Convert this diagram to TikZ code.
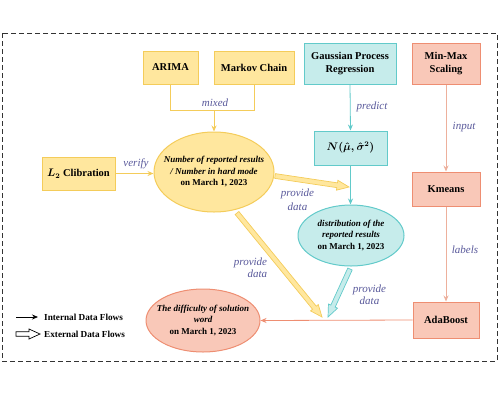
\documentclass[tikz,border=0pt]{standalone}
\usepackage{amsmath,bm}
\usepackage{fontspec}
\setmainfont{Liberation Serif}
\usetikzlibrary{arrows.meta,calc,shapes.geometric}
\definecolor{yfill}{HTML}{FFE79E}
\definecolor{ydraw}{HTML}{F4CC5A}
\definecolor{cfill}{HTML}{C6ECEB}
\definecolor{cdraw}{HTML}{62CACA}
\definecolor{sfill}{HTML}{F9C8B8}
\definecolor{sdraw}{HTML}{EE8E72}
\definecolor{slight}{HTML}{EDB09C}
\definecolor{lab}{HTML}{58589A}
\newcommand{\fatarrow}[7]{%
  \path ($(#2)!#7!(#1)$) coordinate (fh);
  \filldraw[draw=#3, fill=#4, line width=0.7pt, line join=miter]
    ($(#1)!#5!90:(#2)$) -- ($(fh)!#5!90:(#2)$) -- ($(fh)!#6!90:(#2)$) -- (#2)
    -- ($(fh)!#6!-90:(#2)$) -- ($(fh)!#5!-90:(#2)$) -- ($(#1)!#5!-90:(#2)$) -- cycle;
}
\newcommand{\normtxt}{{\mathversion{bold}$N(\hat{\mu},\hat{\sigma}^{2})$}}
\tikzset{
  box/.style={rectangle, draw, line width=1pt, inner sep=0pt, align=center,
    font=\bfseries\fontsize{10.5}{13}\selectfont},
  ybox/.style={box, draw=ydraw, fill=yfill},
  cbox/.style={box, draw=cdraw, fill=cfill},
  sbox/.style={box, draw=sdraw, fill=sfill},
  ell/.style={ellipse, line width=1pt, inner sep=0pt},
  etext/.style={align=center, inner sep=0pt, font=\fontsize{9}{11.5}\selectfont},
  lbl/.style={text=lab, inner sep=0pt, font=\itshape\fontsize{11}{14}\selectfont},
  tip/.style={-{Stealth[length=6pt,width=5pt]}},
  conn/.style={line width=0.8pt},
}
\begin{document}
\begin{tikzpicture}[x=1pt,y=-1pt]
\useasboundingbox (0,0) rectangle (500,400);
\draw[line width=0.8pt, draw=black!80, dash pattern=on 5pt off 3pt] (2,33) rectangle (497,361);

% boxes
\node[ybox, minimum width=55, minimum height=33] (arima) at (170.5,67.5) {ARIMA};
\node[ybox, minimum width=80, minimum height=33] (markov) at (254,67.5) {Markov Chain};
\node[cbox, minimum width=92, minimum height=41] (gpr) at (350,63.5) {Gaussian Process\\Regression};
\node[sbox, minimum width=68, minimum height=41] (minmax) at (446,63.5) {Min-Max\\Scaling};
\node[cbox, minimum width=73, minimum height=34] (nbox) at (350.5,148) {\normtxt};
\node[sbox, minimum width=68, minimum height=34] (kmeans) at (446,189) {Kmeans};
\node[sbox, minimum width=66, minimum height=36] (ada) at (446,320) {AdaBoost};
\node[ybox, minimum width=73, minimum height=33] (ltwo) at (78.5,173.5) {{\mathversion{bold}$L_2$} Clibration};

% ellipses
\node[ell, draw=ydraw, fill=yfill, minimum width=120, minimum height=80] (e1) at (214,172) {};
\node[etext] (e1t) at (e1) {\bfseries\itshape Number of reported results\\\bfseries\itshape / Number in hard mode\\\bfseries on March 1, 2023};
\node[ell, draw=cdraw, fill=cfill, minimum width=106, minimum height=61] (e2) at (351,235.5) {};
\node[etext] (e2t) at (e2) {\bfseries\itshape distribution of the\\\bfseries\itshape reported results\\\bfseries on March 1, 2023};
\node[ell, draw=sdraw, fill=sfill, minimum width=114, minimum height=63] (e3) at (203,320.5) {};
\node[etext] (e3t) at (e3) {\bfseries\itshape The difficulty of solution\\\bfseries\itshape word\\\bfseries on March 1, 2023};

% thin connectors
\coordinate (mix) at (214,110);
\draw[conn, ydraw] (arima.south) |- (mix);
\draw[conn, ydraw] (markov.south) |- (mix);
\draw[conn, ydraw, tip] (mix) -- (e1.north);
\node[lbl] (lmix) at (215,102.5) {mixed};
\draw[conn, ydraw, tip] (ltwo.east) -- (ltwo.east -| e1.west);
\node[lbl] (lver) at (136,164) {verify};
\draw[conn, cdraw, tip] (gpr.south) -- (nbox.north);
\node[lbl] (lpred) at (372,107) {predict};
\draw[conn, cdraw, tip] (nbox.south) -- (nbox.south |- e2.north);
\draw[conn, slight, tip] (minmax.south) -- (kmeans.north);
\node[lbl] (linp) at (464,127) {input};
\draw[conn, slight, tip] (kmeans.south) -- (ada.north);
\node[lbl] (llab) at (465,250) {labels};
\draw[conn, sdraw, tip] (ada.west) -- (e3.east);

% fat arrows
\coordinate (f1s) at (275,176);
\coordinate (f1e) at (349,187);
\coordinate (f2s) at (237,213);
\coordinate (f2e) at (322,317);
\coordinate (f3s) at (350,269);
\coordinate (f3e) at (328,317);
\fatarrow{f1s}{f1e}{ydraw}{yfill}{2.4pt}{5pt}{12pt}
\fatarrow{f2s}{f2e}{ydraw}{yfill}{2.4pt}{5pt}{12pt}
\fatarrow{f3s}{f3e}{cdraw}{cfill}{2.4pt}{5pt}{12pt}
\node[lbl, align=center, font=\itshape\fontsize{11}{14}\selectfont] (lp1) at (297.5,200) {provide\\data};
\node[lbl, align=right, font=\itshape\fontsize{11}{12}\selectfont] (lp2) at (250.5,268) {provide\\data};
\node[lbl, align=center, font=\itshape\fontsize{11}{12}\selectfont] (lp3) at (369.5,295) {provide\\data};

% legend
\coordinate (g1s) at (16,317);
\coordinate (g1e) at (38,317);
\draw[conn, black, tip] (g1s) -- (g1e);
\node[anchor=west, inner sep=0pt, font=\bfseries\fontsize{9.2}{11}\selectfont] (gt1) at (44,317) {Internal Data Flows};
\coordinate (g2s) at (16,334);
\coordinate (g2e) at (40,334);
\fatarrow{g2s}{g2e}{black}{white}{2.2pt}{5pt}{11pt}
\node[anchor=west, inner sep=0pt, font=\bfseries\fontsize{9.2}{11}\selectfont] (gt2) at (44,334) {External Data Flows};
\end{tikzpicture}
\end{document}
